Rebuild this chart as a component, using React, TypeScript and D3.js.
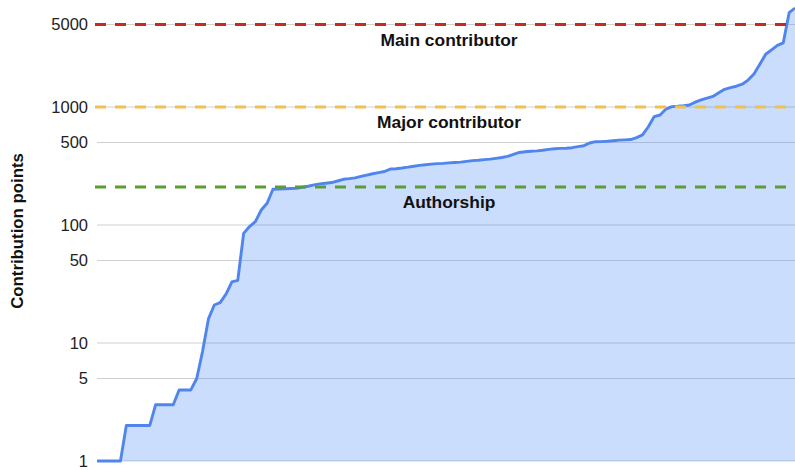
import React from 'react';
import * as d3 from 'd3';

// contribution points per contributor, sorted ascending
const points = [
  1, 1, 1, 1, 1, 2, 2, 2, 2, 2, 3, 3, 3, 3, 4, 4, 4, 5, 8.5, 16,
  21, 22, 26, 33, 34, 85, 97, 107, 134, 153, 201, 202, 203, 204, 205, 209, 213, 219, 223, 226,
  229, 236, 244, 247, 251, 258, 265, 272, 278, 284, 298, 300, 304, 309, 315, 320, 324, 328, 331, 333,
  336, 339, 341, 346, 351, 354, 358, 362, 367, 373, 382, 397, 412, 418, 422, 425, 430, 437, 443, 446,
  447, 452, 462, 470, 495, 508, 509, 512, 518, 524, 527, 530, 550, 580, 680, 830, 855, 960, 1008, 1015,
  1025, 1040, 1100, 1150, 1190, 1230, 1320, 1413, 1460, 1500, 1560, 1690, 1900, 2300, 2800, 3050, 3330, 3500, 6300, 6900,
];

const tickValues = [1, 5, 10, 50, 100, 500, 1000, 5000];

const thresholds = [
  { value: 5000, label: 'Main contributor', color: '#c9291c' },
  { value: 1000, label: 'Major contributor', color: '#f1c24a' },
  { value: 210, label: 'Authorship', color: '#5a9e33' },
];

const width = 795;
const height = 470;

export default function App() {
  const x = d3.scaleLinear()
    .domain([0, points.length - 1])
    .range([97, 795]);
  const y = d3.scaleLog()
    .domain([1, 10000])
    .range([461, -11]);

  const area = d3.area<number>()
    .x((d, i) => x(i))
    .y0(y(1))
    .y1(d => y(d));
  const line = d3.line<number>()
    .x((d, i) => x(i))
    .y(d => y(d));

  const font = 'Arial, "Liberation Sans", sans-serif';
  const labelX = 449;

  return (
    <svg width={width} height={height}
      style={{ position: 'absolute', left: 0, top: 0, background: '#fff' }}
      fontFamily={font}>
      {/* grid */}
      {tickValues.map(t => (
        <g key={t}>
          <line x1={97} x2={795} y1={y(t)} y2={y(t)} stroke="#d0d0d0" strokeWidth={1.2} />
          <text x={88} y={y(t)} dy="0.36em" textAnchor="end" fontSize={16.5} fill="#222">{t}</text>
        </g>
      ))}

      <path d={area(points) || ''} fill="#4285f4" fillOpacity={0.28} />
      <path d={line(points) || ''} fill="none" stroke="#5085ed" strokeWidth={2.9} strokeLinejoin="round" />

      {thresholds.map(th => (
        <g key={th.label}>
          <line x1={95} x2={795} y1={y(th.value)} y2={y(th.value)}
            stroke={th.color} strokeWidth={3.2} strokeDasharray="11 9" />
          <text x={labelX} y={y(th.value) + 21} textAnchor="middle"
            fontSize={17.4} fontWeight="bold" fill="#111">{th.label}</text>
        </g>
      ))}

      <text transform={`translate(23, 231) rotate(-90)`} textAnchor="middle"
        fontSize={16.8} fontWeight="bold" fill="#111">Contribution points</text>
    </svg>
  );
}
